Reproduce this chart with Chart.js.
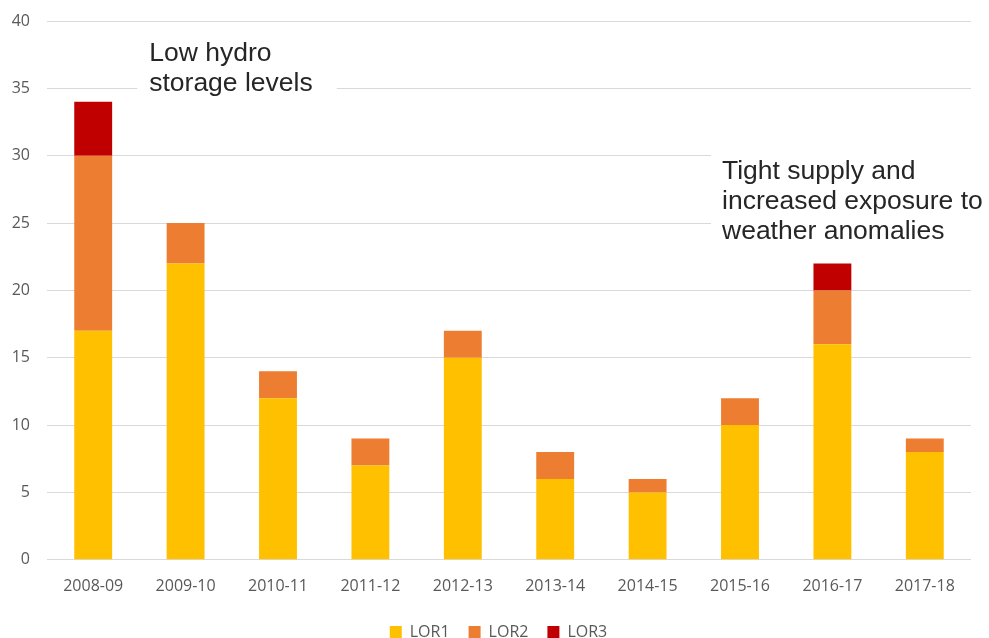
<!DOCTYPE html>
<html>
<head>
<meta charset="utf-8">
<script src="https://cdn.jsdelivr.net/npm/chart.js@4"></script>
<style>
  html, body { margin: 0; padding: 0; background: #ffffff; }
  #wrap { width: 989px; height: 638px; position: relative; }
</style>
</head>
<body>
<div id="wrap"><canvas id="c"></canvas></div>
<script>
// Financial years on the category axis
const years = ['2008-09', '2009-10', '2010-11', '2011-12', '2012-13',
               '2013-14', '2014-15', '2015-16', '2016-17', '2017-18'];

// Lack of Reserve events per year, by level
const lor1 = [17, 22, 12, 7, 15, 6, 5, 10, 16, 8];
const lor2 = [13, 3, 2, 2, 2, 2, 1, 2, 4, 1];
const lor3 = [4, 0, 0, 0, 0, 0, 0, 0, 2, 0];

// Value-axis ticks
const yTicks = [0, 5, 10, 15, 20, 25, 30, 35, 40];

// Callout notes
const noteHydro = ['Low hydro', 'storage levels'];
const noteSupply = ['Tight supply and', 'increased exposure to', 'weather anomalies'];

const tickColor = '#595959';
const tickFont = { family: 'Open Sans', size: 16 };

// Writes the callout text on a white patch over the gridlines
const calloutPlugin = {
  id: 'callouts',
  afterLayout(chart) {
    // centre the legend under the whole canvas rather than the padded area
    if (chart.legend) {
      chart.legend.left += 13;
      chart.legend.right += 13;
    }
  },
  beforeDatasetsDraw(chart) {
    const { ctx, chartArea, scales: { x, y } } = chart;
    const lh = 30;
    const notes = [
      { lines: noteHydro, left: x.getPixelForValue(0) + 56, base: y.getPixelForValue(37.0), padL: 12, padR: 24 },
      { lines: noteSupply, left: x.getPixelForValue(7) - 18, base: y.getPixelForValue(28.3), padL: 11, toEdge: true }
    ];
    ctx.save();
    ctx.font = '26.5px "Liberation Sans", Arial, sans-serif';
    ctx.textBaseline = 'alphabetic';
    notes.forEach(n => {
      const w = Math.max(...n.lines.map(l => ctx.measureText(l).width));
      const bx = n.left - n.padL;
      const bw = n.toEdge ? chartArea.right - bx + 2 : w + n.padL + n.padR;
      const top = n.base - 26;
      const h = (n.lines.length - 1) * lh + 34;
      ctx.fillStyle = '#ffffff';
      ctx.fillRect(bx, top, bw, h);
      ctx.fillStyle = '#262626';
      n.lines.forEach((l, i) => ctx.fillText(l, n.left, n.base + i * lh));
    });
    ctx.restore();
  }
};

new Chart(document.getElementById('c'), {
  type: 'bar',
  data: {
    labels: years,
    datasets: [
      { label: 'LOR1', data: lor1, backgroundColor: '#FFC000' },
      { label: 'LOR2', data: lor2, backgroundColor: '#ED7D31' },
      { label: 'LOR3', data: lor3, backgroundColor: '#C00000' }
    ]
  },
  options: {
    responsive: true,
    maintainAspectRatio: false,
    animation: false,
    layout: { padding: { top: 21, right: 18, left: 0, bottom: -12 } },
    datasets: { bar: { categoryPercentage: 1, barPercentage: 0.41, borderWidth: 0 } },
    scales: {
      x: {
        stacked: true,
        grid: { display: false },
        border: { display: false },
        ticks: { color: tickColor, font: tickFont, padding: 9, maxRotation: 0 }
      },
      y: {
        stacked: true,
        min: 0,
        max: 40,
        afterBuildTicks(axis) { axis.ticks = yTicks.map(v => ({ value: v })); },
        afterFit(axis) {
          axis.width = 47;
          axis.paddingTop = 0;
          axis.paddingBottom = 0;
        },
        grid: { color: '#d9d9d9', lineWidth: 1, drawTicks: false },
        border: { display: false },
        ticks: { color: tickColor, font: tickFont, padding: 17 }
      }
    },
    plugins: {
      legend: {
        position: 'bottom',
        labels: {
          color: tickColor,
          font: tickFont,
          boxWidth: 12,
          boxHeight: 12,
          padding: 19
        }
      },
      tooltip: { enabled: false }
    }
  },
  plugins: [calloutPlugin]
});
</script>
</body>
</html>
